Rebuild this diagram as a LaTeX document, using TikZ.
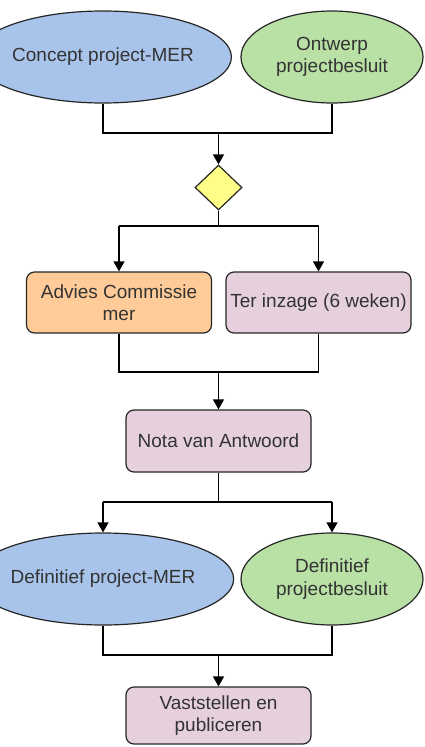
\documentclass[tikz,border=0pt]{standalone}
\usepackage{fontspec}
\setmainfont{Liberation Sans}
\usetikzlibrary{shapes.geometric,arrows.meta}
\definecolor{cblue}{HTML}{A9C4EB}
\definecolor{cgreen}{HTML}{B9E0A5}
\definecolor{cyellow}{HTML}{FFFF88}
\definecolor{corange}{HTML}{FFCC99}
\definecolor{cpurple}{HTML}{E6D0DE}
\definecolor{ctext}{HTML}{333333}
\tikzset{
  base/.style={draw=black!85, line width=1.2pt, inner sep=0pt, align=center,
    text=ctext, font=\fontsize{19}{22.5}\selectfont},
  ell/.style={base, ellipse, minimum height=92pt},
  rbox/.style={base, rectangle, rounded corners=8pt, minimum width=185pt},
  conn/.style={draw=black, line width=1.2pt},
  arr/.style={conn, -{Triangle[length=10pt,width=11pt]}}
}
\begin{document}
\begin{tikzpicture}[x=1pt,y=-1pt]
\useasboundingbox (0,0) rectangle (424,747);
\node[ell, fill=cblue, minimum width=186pt] (c1) at (103,57) {Concept project-MER};
\node[ell, fill=cgreen, minimum width=182pt] (c2) at (332,57) {Ontwerp\\projectbesluit};
\node[base, diamond, fill=cyellow, minimum width=47pt, minimum height=45pt] (d) at (218.5,187.5) {};
\node[rbox, fill=corange, minimum height=61pt] (a1) at (119,302.5) {Advies Commissie\\mer};
\node[rbox, fill=cpurple, minimum height=61pt] (a2) at (318.5,302.5) {Ter inzage (6 weken)};
\node[rbox, fill=cpurple, minimum height=62pt] (n) at (218.5,441) {Nota van Antwoord};
\node[ell, fill=cblue, minimum width=186pt] (e1) at (103,579) {Definitief project-MER};
\node[ell, fill=cgreen, minimum width=182pt] (e2) at (332,579) {Definitief\\projectbesluit};
\node[rbox, fill=cpurple, minimum height=57pt] (v) at (218.5,715.5) {Vaststellen en\\publiceren};
\coordinate (j1) at (218.5,133);
\coordinate (j2) at (218.5,226);
\coordinate (j3) at (218.5,372);
\coordinate (j4) at (218.5,502);
\coordinate (j5) at (218.5,655);
% top merge
\draw[conn] (c1.south) -- (c1.south |- j1) -- (c2.south |- j1) -- (c2.south);
\draw[arr] (j1) -- (d.north);
% split
\draw[conn] (d.south) -- (j2);
\draw[conn] (a1.north |- j2) -- (a2.north |- j2);
\draw[arr] (a1.north |- j2) -- (a1.north);
\draw[arr] (a2.north |- j2) -- (a2.north);
% merge
\draw[conn] (a1.south) -- (a1.south |- j3) -- (a2.south |- j3) -- (a2.south);
\draw[arr] (j3) -- (n.north);
% split
\draw[conn] (n.south) -- (j4);
\draw[conn] (e1.north |- j4) -- (e2.north |- j4);
\draw[arr] (e1.north |- j4) -- (e1.north);
\draw[arr] (e2.north |- j4) -- (e2.north);
% merge
\draw[conn] (e1.south) -- (e1.south |- j5) -- (e2.south |- j5) -- (e2.south);
\draw[arr] (j5) -- (v.north);
\end{tikzpicture}
\end{document}
